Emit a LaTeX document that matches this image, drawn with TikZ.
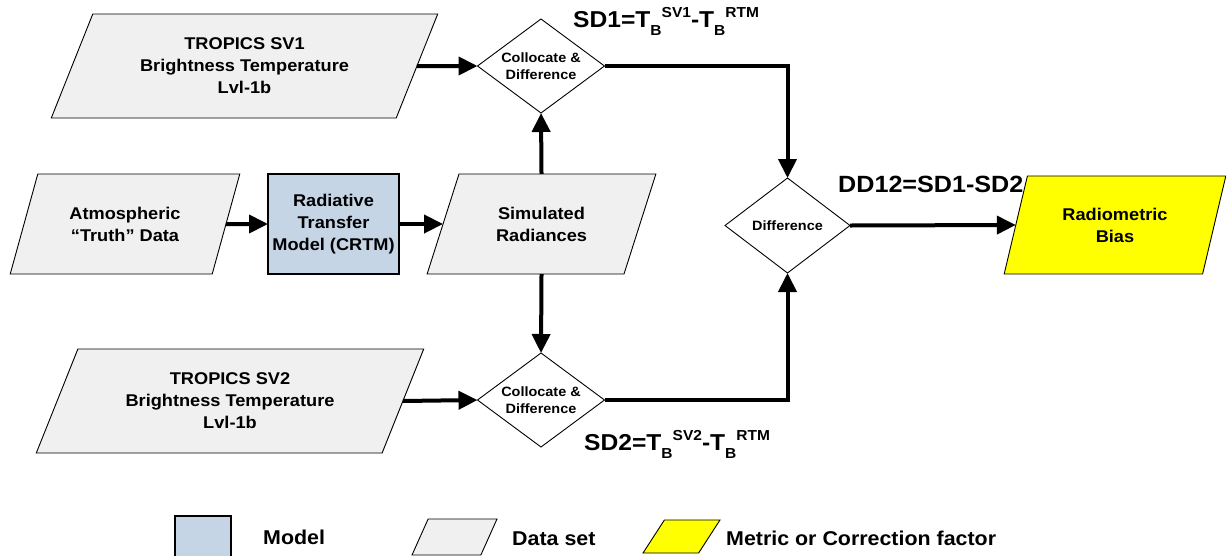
\documentclass[tikz,border=0pt]{standalone}
\usepackage{fontspec}
\setmainfont{Liberation Sans}[FakeStretch=1.07]
\usetikzlibrary{arrows.meta,shapes.geometric}
\definecolor{data-gray}{HTML}{F0F0F0}
\definecolor{model-blue}{HTML}{C6D5E6}
\definecolor{metric-yellow}{HTML}{FFFF00}
\newcommand{\tbsub}[1]{\raisebox{-8pt}{\fontsize{14.5}{14.5}\selectfont #1}}
\newcommand{\tbsup}[1]{\raisebox{10pt}{\fontsize{14.5}{14.5}\selectfont #1}}

\begin{document}
\begin{tikzpicture}[
    x=1pt, y=-1pt,
    >={Triangle[length=19pt, width=18pt]},
    font=\bfseries\fontsize{17}{22}\selectfont,
    dataset/.style={trapezium, trapezium stretches=true, trapezium left angle=63, trapezium right angle=117, draw, line width=0.9pt, fill=data-gray, inner sep=0pt, outer sep=0pt, align=center},
    model/.style={draw, line width=2pt, fill=model-blue, inner sep=0pt, outer sep=0pt, align=center},
    decision/.style={diamond, aspect=1.35, draw, line width=0.9pt, fill=white, inner sep=0pt, outer sep=0pt, align=center, font=\bfseries\fontsize{13.5}{17}\selectfont},
    flow/.style={->, line width=4pt},
    eqn/.style={anchor=base west, inner sep=0pt, font=\bfseries\fontsize{23}{23}\selectfont},
    legtext/.style={anchor=west, inner sep=0pt, font=\bfseries\fontsize{20}{20}\selectfont}
]
\useasboundingbox (0,0) rectangle (1226,555);

% inputs and model
\node[dataset, minimum width=387pt, minimum height=104pt] (sv1) at (244.5,66) {TROPICS SV1\\Brightness Temperature\\Lvl-1b};
\node[dataset, minimum width=230pt, minimum height=100pt] (atm) at (125,224) {Atmospheric\\“Truth” Data};
\node[model, minimum width=131pt, minimum height=100pt] (crtm) at (333.5,224) {Radiative\\Transfer\\Model (CRTM)};
\node[dataset, minimum width=229pt, minimum height=100pt] (sim) at (541.5,224) {Simulated\\Radiances};
\node[dataset, minimum width=388pt, minimum height=104pt] (sv2) at (230,401) {TROPICS SV2\\Brightness Temperature\\Lvl-1b};

% differences
\node[decision, minimum width=127pt, minimum height=94pt] (colone) at (541,66) {Collocate \&\\Difference};
\node[decision, minimum width=127pt, minimum height=94pt] (coltwo) at (541,400) {Collocate \&\\Difference};
\node[decision, minimum width=125pt, minimum height=95pt] (diff) at (787.5,225.5) {Difference};
\node[dataset, fill=metric-yellow, trapezium left angle=68, trapezium right angle=112, minimum width=222pt, minimum height=98pt] (bias) at (1115,225) {Radiometric\\Bias};

\node[eqn] (sdone) at (573,27) {SD1=T\tbsub{B}\tbsup{SV1}-T\tbsub{B}\tbsup{RTM}};
\node[eqn] (sdtwo) at (584,450) {SD2=T\tbsub{B}\tbsup{SV2}-T\tbsub{B}\tbsup{RTM}};
\node[eqn, font=\bfseries\fontsize{23.5}{23.5}\selectfont] (ddot) at (838,192) {DD12=SD1-SD2};

\draw[flow] (sv1.east) -- (colone.west);
\draw[flow] (atm.east) -- (crtm.west);
\draw[flow] (crtm.east) -- (sim.west);
\draw[flow] (sim.north) -- (colone.south);
\draw[flow] (sim.south) -- (coltwo.north);
\draw[flow] (sv2.east) -- (coltwo.west);
\draw[flow] (colone.east) -| (diff.north);
\draw[flow] (coltwo.east) -| (diff.south);
\draw[flow] (diff.east) -- (bias.west);

% legend
\node[model, inner sep=2pt, minimum width=56pt, minimum height=42pt] (legmodel) at (203,537) {};
\node[legtext] (legmodeltxt) at (263,537) {Model};
\node[dataset, inner sep=2pt, trapezium left angle=73, trapezium right angle=107, minimum width=85pt, minimum height=36pt] (legdata) at (454.5,537) {};
\node[legtext] (legdatatxt) at (512,539) {Data set};
\node[dataset, inner sep=2pt, fill=metric-yellow, trapezium left angle=58, trapezium right angle=122, minimum width=77pt, minimum height=33pt] (legmetric) at (681.5,536.5) {};
\node[legtext] (legmetrictxt) at (726,538) {Metric or Correction factor};
\end{tikzpicture}
\end{document}
